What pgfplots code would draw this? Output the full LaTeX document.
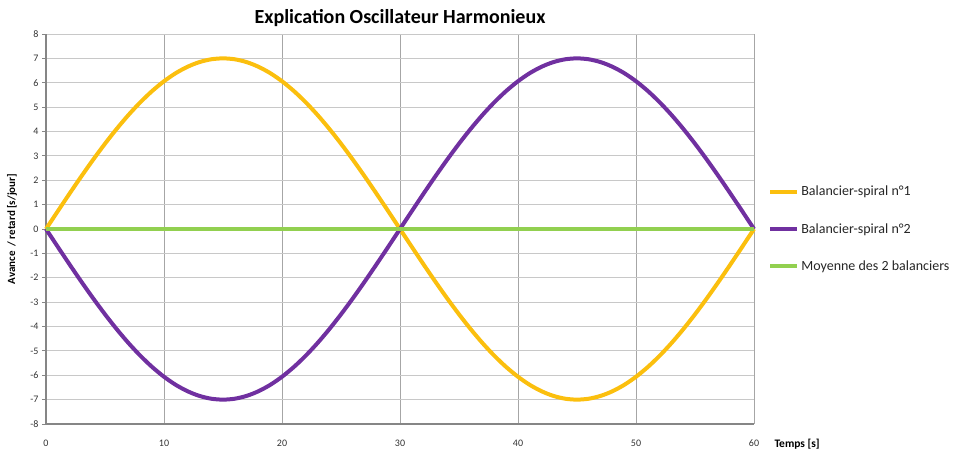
\documentclass[border=0pt]{standalone}
\usepackage{fontspec}
\setmainfont{Carlito}
\usepackage{pgfplots}
\pgfplotsset{compat=1.18}

\definecolor{jaune}{HTML}{FBBF0E}
\definecolor{violet}{HTML}{7030A0}
\definecolor{vert}{HTML}{92D050}
\definecolor{grille}{HTML}{C8C8C8}
\definecolor{grillev}{HTML}{A6A6A6}
\definecolor{axe}{HTML}{868686}

% t [s], balancier 1, balancier 2
\pgfplotstableread{
t s1 s2
0 0 0
1 0.732 -0.732
2 1.455 -1.455
3 2.163 -2.163
4 2.847 -2.847
5 3.5 -3.5
6 4.114 -4.114
7 4.684 -4.684
8 5.202 -5.202
9 5.663 -5.663
10 6.062 -6.062
11 6.395 -6.395
12 6.657 -6.657
13 6.847 -6.847
14 6.962 -6.962
15 7 -7
16 6.962 -6.962
17 6.847 -6.847
18 6.657 -6.657
19 6.395 -6.395
20 6.062 -6.062
21 5.663 -5.663
22 5.202 -5.202
23 4.684 -4.684
24 4.114 -4.114
25 3.5 -3.5
26 2.847 -2.847
27 2.163 -2.163
28 1.455 -1.455
29 0.732 -0.732
30 0 0
31 -0.732 0.732
32 -1.455 1.455
33 -2.163 2.163
34 -2.847 2.847
35 -3.5 3.5
36 -4.114 4.114
37 -4.684 4.684
38 -5.202 5.202
39 -5.663 5.663
40 -6.062 6.062
41 -6.395 6.395
42 -6.657 6.657
43 -6.847 6.847
44 -6.962 6.962
45 -7 7
46 -6.962 6.962
47 -6.847 6.847
48 -6.657 6.657
49 -6.395 6.395
50 -6.062 6.062
51 -5.663 5.663
52 -5.202 5.202
53 -4.684 4.684
54 -4.114 4.114
55 -3.5 3.5
56 -2.847 2.847
57 -2.163 2.163
58 -1.455 1.455
59 -0.732 0.732
60 0 0
}\osc

\begin{document}
\begin{tikzpicture}
\useasboundingbox (0,0) rectangle (960bp,461bp);
\begin{axis}[
  scale only axis,
  width=708bp, height=390bp,
  at={(46bp,37bp)}, anchor=south west,
  xmin=0, xmax=60, ymin=-8, ymax=8,
  xtick={0,10,...,60},
  ytick={-8,-7,...,8},
  yticklabels={-8,-7,-6,-5,-4,-3,-2,-1,0,1,2,3,4,5,6,7,8},
  xticklabels={0,10,20,30,40,50,60},
  axis lines=left,
  axis line style={-, draw=axe, line width=1.2bp},
  ymajorgrids, xmajorgrids,
  y grid style={draw=grille, line width=0.9bp},
  x grid style={draw=grillev, line width=0.9bp},
  tick style={draw=axe, line width=0.9bp},
  tick align=outside,
  major tick length=4bp,
  xtick style={draw=none},
  ticklabel style={font=\fontsize{10bp}{12bp}\selectfont, text=black!80},
  xticklabel style={yshift=-8bp},
  title={\textbf{Explication Oscillateur Harmonieux}},
  title style={font=\fontsize{20bp}{24bp}\selectfont, at={(axis description cs:0.5,1)}, anchor=south, yshift=-2bp},
  xlabel={\textbf{Temps [s]}},
  xlabel style={font=\fontsize{11.5bp}{13bp}\selectfont, at={(axis description cs:1,0)}, anchor=west, xshift=17bp, yshift=-20bp},
  ylabel={\textbf{Avance \ / retard [s/jour]}},
  ylabel style={font=\fontsize{11bp}{13bp}\selectfont, at={(axis description cs:0,0.5)}, anchor=center, yshift=34bp},
  legend style={at={(axis description cs:1.02,0.5)}, anchor=west, draw=none, fill=none,
    font=\fontsize{14bp}{16bp}\selectfont, row sep=22bp, inner sep=0bp,
    nodes={inner sep=2bp, text=black!85}},
  legend cell align=left,
  legend image code/.code={\draw[#1, line width=4bp] (0bp,0bp) -- (27bp,0bp);},
  every axis plot/.append style={line width=4bp, smooth, no markers},
  clip=false,
]
\addplot[jaune] table[x=t, y=s1] {\osc};
\addlegendentry{Balancier-spiral n°1}
\addplot[violet] table[x=t, y=s2] {\osc};
\addlegendentry{Balancier-spiral n°2}
\addplot[vert, sharp plot] coordinates {(0,0) (60,0)};
\addlegendentry{Moyenne des 2 balanciers}
\end{axis}
\end{tikzpicture}
\end{document}
